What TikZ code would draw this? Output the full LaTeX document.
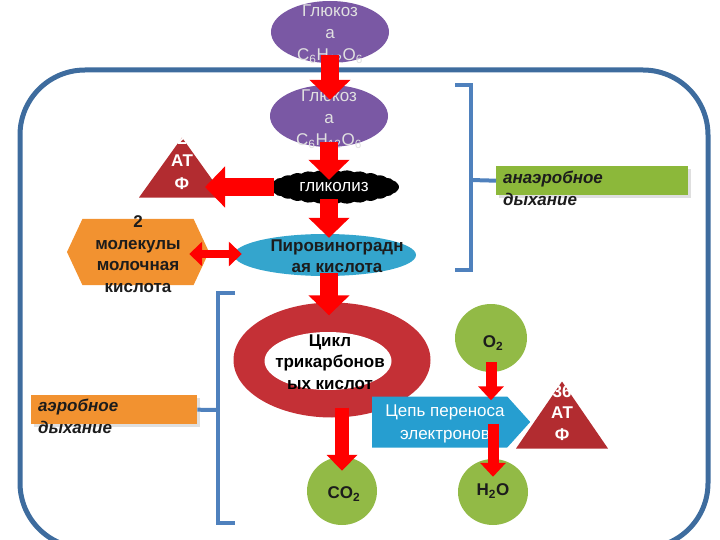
\documentclass[tikz,border=0pt]{standalone}
\usepackage{fontspec}
\setmainfont{Liberation Sans}
\usetikzlibrary{shapes,arrows.meta,positioning,shadows}

\definecolor{framecol}{RGB}{62,108,158}
\definecolor{braceblue}{RGB}{79,129,189}
\definecolor{glucpurple}{RGB}{122,88,164}
\definecolor{atpred}{RGB}{178,44,48}
\definecolor{pyrteal}{RGB}{52,165,205}
\definecolor{lacorange}{RGB}{242,146,48}
\definecolor{tcared}{RGB}{196,48,54}
\definecolor{chainteal}{RGB}{38,158,208}
\definecolor{moleculegreen}{RGB}{146,186,70}
\definecolor{tagreen}{RGB}{140,184,58}
\definecolor{textdark}{RGB}{28,28,28}

\begin{document}
\begin{tikzpicture}[
    x=1pt, y=-1pt,
    oval/.style={ellipse, draw=none, inner sep=0pt},
    triangle/.style={isosceles triangle, shape border rotate=90, isosceles triangle stretches,
        fill=atpred, inner sep=0pt, anchor=apex},
    label/.style={align=center, inner sep=0pt, font=\fontsize{17}{21.5}\selectfont\bfseries, text=textdark},
    whitelabel/.style={label, text=white},
    tag/.style={rectangle, minimum height=29pt, inner sep=0pt, drop shadow={opacity=0.25}},
    tagtext/.style={anchor=north west, align=left, inner sep=0pt,
        font=\fontsize{17}{22}\selectfont\bfseries\itshape, text=textdark},
    brace/.style={draw=braceblue, line width=4pt},
    bigarrow/.style={draw=red, line width=18pt, -{Triangle[width=40pt,length=20pt]}},
    midarrow/.style={draw=red, line width=14pt, -{Triangle[width=30pt,length=16pt]}},
    thinarrow/.style={draw=red, line width=11pt, -{Triangle[width=25pt,length=14pt]}}
]
    \clip (0,0) rectangle (720,540);

    % Cell outline
    \draw[framecol, line width=5pt, rounded corners=65pt] (20,70) rectangle (708,548);

    % Respiration tags and brackets
    \node[tag, fill=tagreen, minimum width=192pt, anchor=north west] (anaer) at (496,166) {};
    \node[tagtext] (anaertext) at (503,171) {анаэробное\\дыхание};
    \node[tag, fill=lacorange, minimum width=166pt, anchor=north west] (aer) at (31,395) {};
    \node[tagtext] (aertext) at (38,399) {аэробное\\дыхание};

    \draw[brace] (455,85) -- (471,85) -- (471,270) -- (455,270);
    \draw[brace] (471,180) -- (anaer.west);
    \draw[brace] (235,293) -- (218,293) -- (218,523) -- (235,523);
    \draw[brace] (218,410) -- (aer.east);

    % Glucose
    \node[oval, fill=glucpurple, minimum width=118pt, minimum height=62pt] (gluc1) at (330,32) {};
    \node[label, font=\fontsize{17}{22}\selectfont, text=white!88!black] (gluc1text) at (330,34)
        {Глюкоз\\а\\C\textsubscript{6}H\textsubscript{12}O\textsubscript{6}};
    \node[oval, fill=glucpurple, minimum width=118pt, minimum height=62pt] (gluc2) at (329,116) {};
    \node[label, font=\fontsize{17}{22}\selectfont, text=white!88!black] (gluc2text) at (329,119)
        {Глюкоз\\а\\C\textsubscript{6}H\textsubscript{12}O\textsubscript{6}};

    % Glycolysis
    \node[cloud, cloud puffs=30, cloud puff arc=55, aspect=4, fill=black, inner sep=0pt,
        minimum width=130pt, minimum height=34pt, text=white,
        font=\fontsize{17}{20}\selectfont] (glyc) at (334,187) {гликолиз};

    % 2 ATP
    \node[triangle, minimum width=86pt, minimum height=60pt] (atp2) at (182,137) {};
    \node[whitelabel, font=\fontsize{17}{22.5}\selectfont\bfseries] (atp2text) at (182,161) {2\\АТ\\Ф};

    % Pyruvate and lactate
    \node[oval, fill=pyrteal, minimum width=182pt, minimum height=42pt] (pyr) at (325,255) {};
    \node[label] (pyrtext) at (337,256) {Пировиноградн\\ая кислота};
    \node[signal, signal to=west and east, signal pointer angle=130, fill=lacorange, inner sep=0pt,
        minimum width=142pt, minimum height=66pt] (lac) at (138,252) {};
    \node[label] (lactext) at (138,254) {2\\молекулы\\молочная\\кислота};

    % Krebs cycle
    \node[oval, fill=tcared, minimum width=197pt, minimum height=115pt] (tca) at (332,360) {};
    \node[oval, fill=white, minimum width=127pt, minimum height=58pt] (tcahole) at (328,361) {};
    \node[label, text=black] (tcatext) at (330,362) {Цикл\\трикарбонов\\ых кислот};

    % Molecules
    \node[oval, fill=moleculegreen, minimum width=70pt, minimum height=68pt] (co2) at (342,491) {};
    \node[label] (co2text) at (344,494) {CO\textsubscript{2}};
    \node[oval, fill=moleculegreen, minimum width=72pt, minimum height=68pt] (o2) at (491,338) {};
    \node[label] (o2text) at (493,343) {O\textsubscript{2}};
    \node[oval, fill=moleculegreen, minimum width=70pt, minimum height=66pt] (h2o) at (493,492) {};
    \node[label] (h2otext) at (493,491) {H\textsubscript{2}O};

    % Electron transport chain and 36 ATP
    \node[signal, signal to=east, signal pointer angle=96, fill=chainteal, inner sep=0pt,
        minimum width=158pt, minimum height=51pt, anchor=west] (chain) at (372,422) {};
    \node[whitelabel, font=\fontsize{17}{23}\selectfont] (chaintext) at (445,424) {Цепь переноса\\электронов};
    \node[triangle, minimum width=92pt, minimum height=67pt] (atp36) at (562,381) {};
    \node[whitelabel] (atp36text) at (562,413) {36\\АТ\\Ф};

    % Arrows
    \draw[bigarrow] ([yshift=8pt]gluc1.south) -- ([yshift=-15pt]gluc1.south |- gluc2.north);
    \draw[bigarrow] ([yshift=5pt]gluc2.south) -- ([yshift=-10pt]gluc2.south |- glyc.north);
    \draw[bigarrow] ([xshift=5pt]glyc.west) -- ([xshift=23pt]atp2text.center |- glyc.west);
    \draw[bigarrow] ([yshift=5pt]glyc.south -| gluc2.south) -- ([yshift=-4pt]gluc2.south |- pyr.north);
    \draw[draw=red, line width=8pt, {Triangle[width=24pt,length=13pt]}-{Triangle[width=24pt,length=13pt]}]
        ([xshift=-20pt,yshift=-2pt]lac.east) -- ([xshift=8pt,yshift=1pt]pyr.west);
    \draw[bigarrow] ([yshift=3pt]pyr.south -| gluc2.south) -- ([yshift=-13pt]gluc2.south |- tca.north);
    \draw[midarrow] ([yshift=10pt]tca.south -| co2.north) -- ([yshift=-14pt]co2.north);
    \draw[thinarrow] ([yshift=10pt]o2.south) -- ([yshift=-4pt]o2.south |- chain.north);
    \draw[thinarrow] ([yshift=24pt]h2o.north |- chain.south) -- ([yshift=-18pt]h2o.north);
\end{tikzpicture}
\end{document}
